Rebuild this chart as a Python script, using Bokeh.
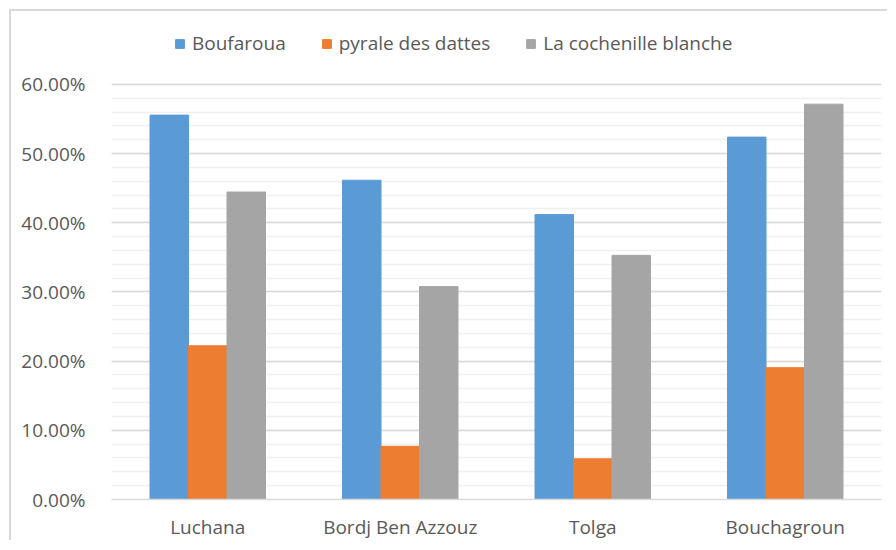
from bokeh.plotting import figure
from bokeh.models import (ColumnDataSource, FactorRange, NumeralTickFormatter, Legend,
                          LegendItem, FixedTicker)
from bokeh.transform import dodge
from bokeh.embed import file_html
from bokeh.resources import INLINE

categories = ["Luchana", "Bordj Ben Azzouz", "Tolga", "Bouchagroun"]
boufaroua = [0.5556, 0.4615, 0.4118, 0.5238]
pyrale = [0.2222, 0.0769, 0.0588, 0.1905]
cochenille = [0.4444, 0.3077, 0.3529, 0.5714]
series_names = ["Boufaroua", "pyrale des dattes", "La cochenille blanche"]
colors = ["#5B9BD5", "#ED7D31", "#A5A5A5"]
major_ticks = [0.0, 0.1, 0.2, 0.3, 0.4, 0.5, 0.6]
minor_ticks = [i / 50 for i in range(31)]

src = ColumnDataSource(dict(cat=categories, b=boufaroua, p=pyrale, c=cochenille))

# frame extends above 60% to leave room for the legend inside it
p = figure(x_range=FactorRange(factors=categories), y_range=(0, 0.6938),
           width=878, height=531, output_backend="svg", toolbar_location=None,
           min_border_left=100, min_border_right=8, min_border_top=8, min_border_bottom=42)
p.styles = {"margin-left": "9px", "margin-top": "9px",
            "border-left": "2px solid #d9d9d9", "border-top": "2px solid #d9d9d9"}

renderers = []
for key, off, col in zip(["b", "p", "c"], [-0.2, 0.0, 0.2], colors):
    r = p.vbar(x=dodge("cat", off, range=p.x_range), top=key, width=0.2, source=src,
               fill_color=col, line_color=col)
    renderers.append(r)

p.outline_line_color = None
p.background_fill_color = "white"
p.border_fill_color = "white"

p.yaxis.ticker = FixedTicker(ticks=major_ticks, minor_ticks=minor_ticks)
p.yaxis.formatter = NumeralTickFormatter(format="0.00%")
p.yaxis.axis_line_color = None
p.yaxis.major_tick_line_color = None
p.yaxis.minor_tick_line_color = None
p.yaxis.major_label_text_font = "Open Sans"
p.yaxis.major_label_text_font_size = "19px"
p.yaxis.major_label_text_color = "#595959"
p.yaxis.major_label_standoff = 20

p.xaxis.axis_line_color = "#d9d9d9"
p.xaxis.axis_line_width = 1.5
p.xaxis.major_tick_line_color = None
p.xaxis.minor_tick_line_color = None
p.xaxis.major_label_text_font = "Open Sans"
p.xaxis.major_label_text_font_size = "19px"
p.xaxis.major_label_text_color = "#595959"
p.xaxis.major_label_standoff = 8

p.xgrid.grid_line_color = None
p.ygrid.grid_line_color = "#d9d9d9"
p.ygrid.grid_line_width = 1.5
p.ygrid.minor_grid_line_color = "#f0f0f0"
p.ygrid.minor_grid_line_width = 1.5

legend = Legend(items=[LegendItem(label=n, renderers=[r]) for n, r in zip(series_names, renderers)],
                orientation="horizontal", location=(63, 443),
                label_text_font="Open Sans", label_text_font_size="19px",
                label_text_color="#595959", glyph_width=11, glyph_height=11,
                spacing=35, label_standoff=7, padding=0, margin=0,
                border_line_color=None, background_fill_alpha=0)
p.add_layout(legend, "center")

open("out.html", "w").write(file_html(p, INLINE))
